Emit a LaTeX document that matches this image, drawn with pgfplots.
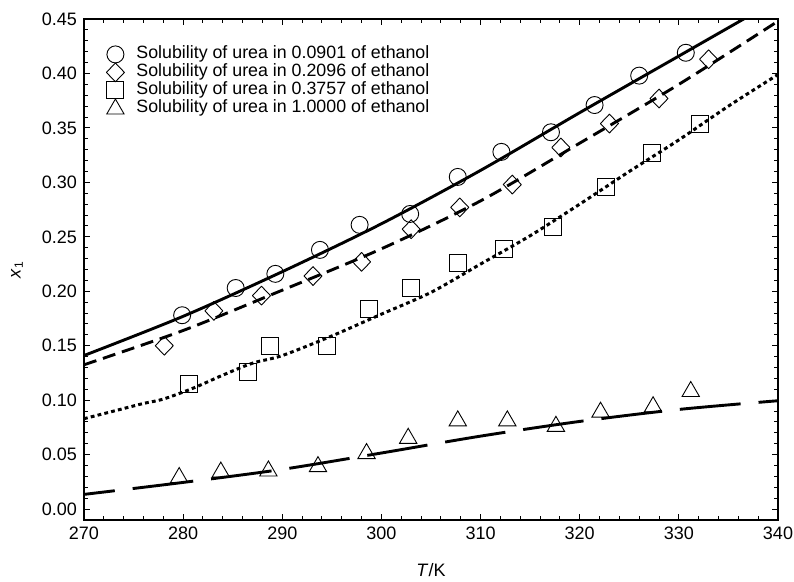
\documentclass[border=0pt]{standalone}
\usepackage{fontspec}
\setmainfont{Liberation Sans}
\usepackage{pgfplots}
\pgfplotsset{compat=1.18}

\begin{document}
\begin{tikzpicture}
\begin{axis}[
    scale only axis,
    width=347pt, height=250.5pt,
    xmin=270, xmax=340, ymin=-0.01, ymax=0.45,
    xtick={270,280,...,340},
    ytick={0,0.05,0.10,0.15,0.20,0.25,0.30,0.35,0.40,0.45},
    minor x tick num=4, minor y tick num=4,
    tick align=inside,
    major tick length=3pt, minor tick length=2pt,
    axis line style={line width=0.6pt},
    every tick/.style={black, line width=0.5pt},
    /pgf/number format/assume math mode=true,
    ticklabel style={font=\fontsize{9}{10}\selectfont},
    yticklabel style={/pgf/number format/fixed, /pgf/number format/fixed zerofill, /pgf/number format/precision=2},
    xticklabel style={/pgf/number format/1000 sep={}},
    xlabel={\textit{T}/K},
    ylabel={\textit{x}\textsubscript{1}},
    label style={font=\fontsize{9}{10}\selectfont},
    xlabel style={at={(axis description cs:0.5,0)}, anchor=center, yshift=-25pt},
    ylabel style={at={(axis description cs:0,0.5)}, anchor=center, yshift=33.5pt},
    legend cell align=left,
    legend style={at={(axis description cs:0,1)}, anchor=north west, xshift=8pt, yshift=-11.2pt,
        draw=none, fill=none, font=\fontsize{8.9}{9}\selectfont, row sep=0pt, column sep=6pt,
        nodes={inner sep=0pt, text height=6.3pt, text depth=2.3pt}},
    mark options={solid, line width=0.45pt},
]

% experimental points
\addplot[only marks, mark=o, mark size=4.25pt] coordinates {
    (279.9,0.178) (285.3,0.203) (289.3,0.216) (293.8,0.238) (297.8,0.261) (302.9,0.271)
    (307.7,0.305) (312.1,0.328) (317.1,0.346) (321.5,0.371) (326.0,0.398) (330.7,0.419)
};
\addlegendentry{Solubility of urea in 0.0901 of ethanol}

\addplot[only marks, mark=diamond, mark size=4.7pt,
    mark options={solid, line width=0.45pt, xscale=1.28, line join=round}] coordinates {
    (278.1,0.150) (283.1,0.182) (287.9,0.196) (293.1,0.214) (298.0,0.227) (303.0,0.257)
    (307.9,0.277) (313.2,0.298) (318.1,0.332) (323.0,0.354) (328.0,0.377) (333.0,0.413)
};
\addlegendentry{Solubility of urea in 0.2096 of ethanol}

\addplot[only marks, mark=square, mark size=4.25pt] coordinates {
    (280.6,0.115) (286.5,0.126) (288.8,0.150) (294.5,0.150) (298.7,0.184) (303.0,0.203)
    (307.7,0.226) (312.4,0.239) (317.3,0.259) (322.6,0.296) (327.3,0.327) (332.1,0.354)
};
\addlegendentry{Solubility of urea in 0.3757 of ethanol}

\addplot[only marks, mark=triangle, mark size=5pt] coordinates {
    (279.6,0.029) (283.8,0.034) (288.6,0.035) (293.6,0.039) (298.5,0.051) (302.7,0.065)
    (307.7,0.081) (312.7,0.081) (317.6,0.076) (322.1,0.089) (327.4,0.094) (331.2,0.108)
};
\addlegendentry{Solubility of urea in 1.0000 of ethanol}

% model curves
\addplot[black, line width=1.45pt, smooth, forget plot] coordinates {
    (270,0.141) (280,0.177) (290,0.218) (300,0.262) (310,0.311) (320,0.364) (330,0.416) (340,0.468)
};
\addplot[black, line width=1.45pt, smooth, dash pattern=on 6.5pt off 3.5pt, forget plot] coordinates {
    (270,0.1325) (280,0.164) (290,0.201) (300,0.239) (310,0.283) (320,0.336) (330,0.390) (340,0.448)
};
\addplot[black, line width=1.5pt, smooth, dash pattern=on 1.9pt off 1.6pt, forget plot] coordinates {
    (270,0.083) (273,0.090) (276,0.097) (278,0.101) (281,0.111) (284,0.123) (287,0.134) (290,0.141)
    (295,0.159) (300,0.179) (305,0.199) (310,0.225) (315,0.251) (320,0.280) (325,0.310) (330,0.339)
    (335,0.370) (340,0.399)
};
\addplot[black, line width=1.45pt, smooth, dash pattern=on 30.5pt off 9pt, dash phase=15pt, forget plot] coordinates {
    (270,0.0135) (280,0.0245) (290,0.0365) (300,0.0515) (310,0.067) (320,0.0805) (330,0.0915) (340,0.0995)
};
\end{axis}
\pgfresetboundingbox
\path[use as bounding box] (current axis.south west) ++(-42pt,-31pt) rectangle ++(397pt,291pt);
\end{tikzpicture}
\end{document}
